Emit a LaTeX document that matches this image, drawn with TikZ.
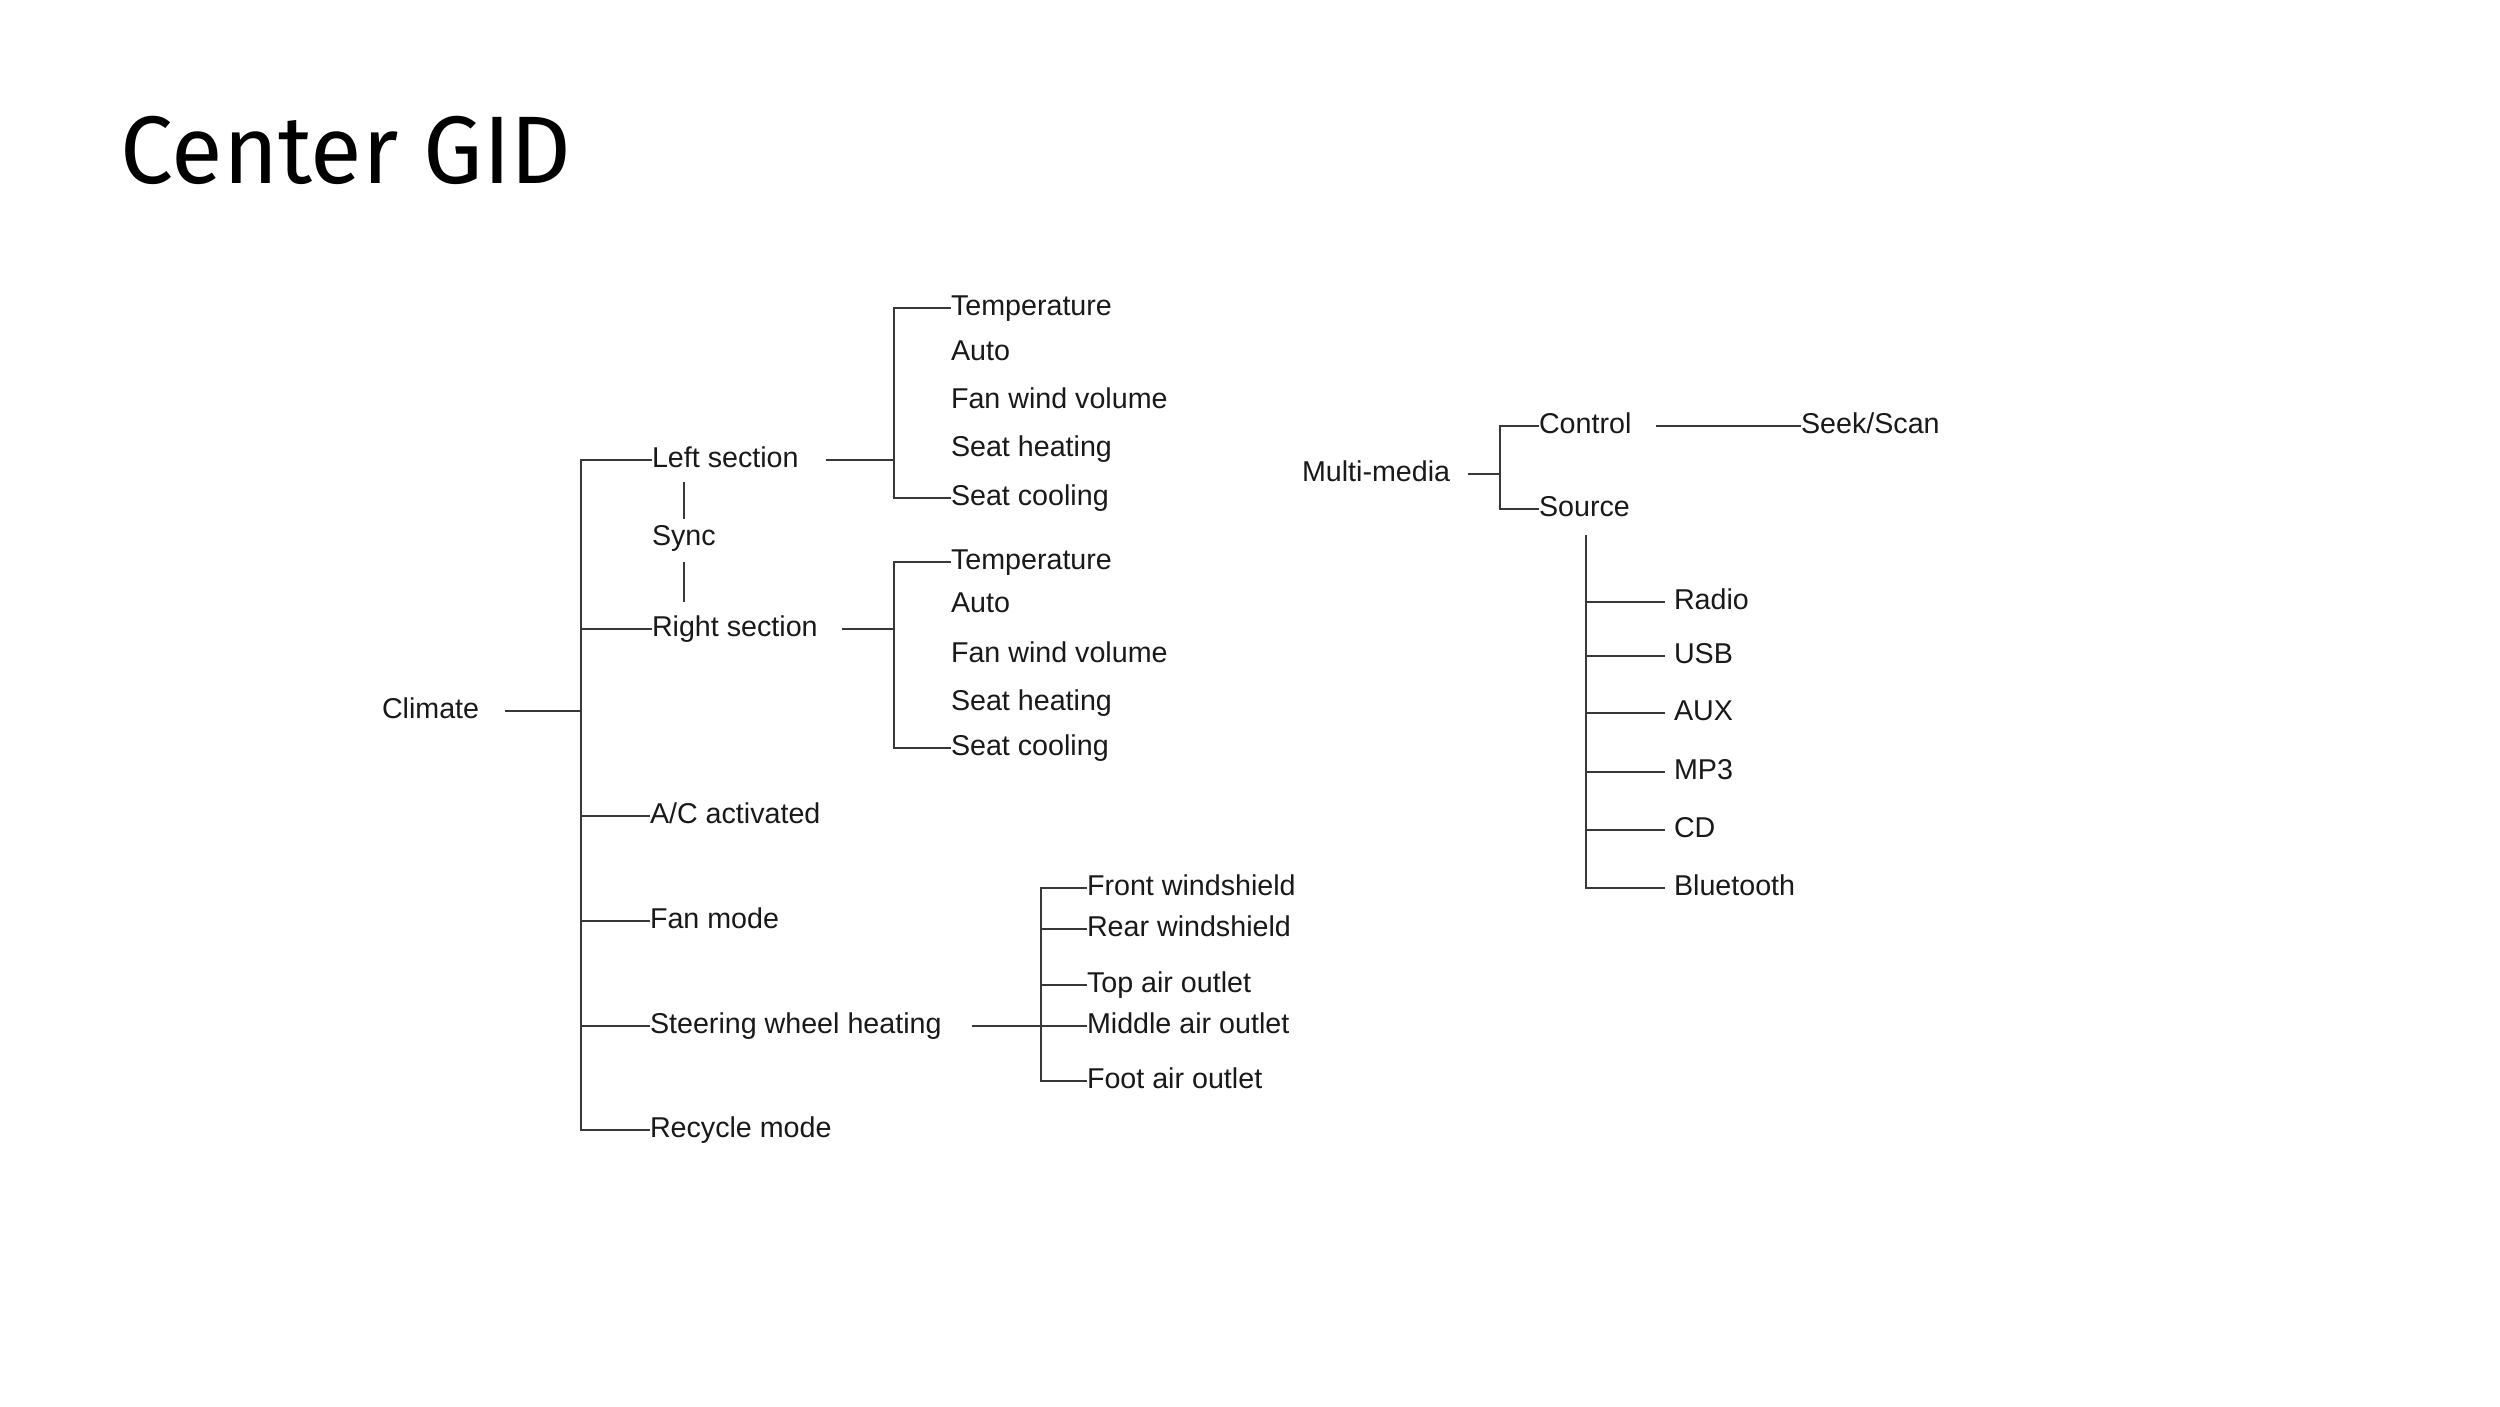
\documentclass[tikz,border=0pt]{standalone}
\usepackage{fontspec}
\usetikzlibrary{calc}
\newfontfamily\bodyfont{Liberation Sans}
\newfontfamily\titlefont{Fira Sans}
\begin{document}
\begin{tikzpicture}[x=0.01cm,y=-0.01cm,
  lbl/.style={anchor=west, inner sep=0pt, outer sep=0pt,
    font=\bodyfont\fontsize{8.15}{9.8}\selectfont, text height=5.8pt, text depth=1.8pt, text=black!90},
  conn/.style={line width=0.6pt, draw=black!78},
  ttl/.style={anchor=base west, inner sep=0pt, font=\titlefont\fontsize{27.3}{32}\selectfont, text=black}]
\fill[white] (0,0) rectangle (2500,1406);
\useasboundingbox (0,0) rectangle (2500,1406);

% Title
\node[ttl] (title) at (120,183) {\scalebox{0.982}[1]{Center GID}};

% Climate tree
\node[lbl] (climate) at (382,711) {Climate};
\node[lbl] (ls) at (652,460) {Left section};
\node[lbl] (sync) at (652,538) {Sync};
\node[lbl] (rs) at (652,629) {Right section};
\node[lbl] (ac) at (650,816) {A/C activated};
\node[lbl] (fan) at (650,921) {Fan mode};
\node[lbl] (sw) at (650,1026) {Steering wheel heating};
\node[lbl] (rec) at (650,1130) {Recycle mode};

\node[lbl] (lt1) at (951,308) {Temperature};
\node[lbl] (lt2) at (951,353) {Auto};
\node[lbl] (lt3) at (951,401) {Fan wind volume};
\node[lbl] (lt4) at (951,449) {Seat heating};
\node[lbl] (lt5) at (951,498) {Seat cooling};

\node[lbl] (rt1) at (951,562) {Temperature};
\node[lbl] (rt2) at (951,605) {Auto};
\node[lbl] (rt3) at (951,655) {Fan wind volume};
\node[lbl] (rt4) at (951,703) {Seat heating};
\node[lbl] (rt5) at (951,748) {Seat cooling};

\node[lbl] (f1) at (1087,888) {Front windshield};
\node[lbl] (f2) at (1087,929) {Rear windshield};
\node[lbl] (f3) at (1087,985) {Top air outlet};
\node[lbl] (f4) at (1087,1026) {Middle air outlet};
\node[lbl] (f5) at (1087,1081) {Foot air outlet};

\coordinate (ctop) at (581,460);
\coordinate (cj) at (581,711);
\coordinate (lbus) at (894,460);
\coordinate (rbus) at (894,629);
\coordinate (sbus) at (1041,1026);

\draw[conn] ($(climate.east)+(26,0)$) -- (cj);
\draw[conn] (ls.west) -- (ctop) -- (ctop |- rec.west) -- (rec.west);
\draw[conn] (ctop |- rs.west) -- (rs.west);
\draw[conn] (ctop |- ac.west) -- (ac.west);
\draw[conn] (ctop |- fan.west) -- (fan.west);
\draw[conn] (ctop |- sw.west) -- (sw.west);

\draw[conn] ($(ls.south -| sync.center)+(0,8.7)$) -- ($(sync.north)+(0,-5.6)$);
\draw[conn] ($(sync.south)+(0,10.7)$) -- ($(rs.north -| sync.center)+(0,-13.6)$);

\draw[conn] ($(ls.east)+(27,0)$) -- (lbus);
\draw[conn] (lt1.west) -| (lbus) |- (lt5.west);
\draw[conn] ($(rs.east)+(24,0)$) -- (rbus);
\draw[conn] (rt1.west) -| (rbus) |- (rt5.west);

\draw[conn] ($(sw.east)+(30,0)$) -- (f4.west);
\draw[conn] (f1.west) -| (sbus) |- (f5.west);
\draw[conn] (sbus |- f2.west) -- (f2.west);
\draw[conn] (sbus |- f3.west) -- (f3.west);

% Multi-media tree
\node[lbl] (mm) at (1302,474) {Multi-media};
\node[lbl] (ctl) at (1539,426) {Control};
\node[lbl] (src) at (1539,509) {Source};
\node[lbl] (seek) at (1801,426) {Seek/Scan};
\node[lbl] (radio) at (1674,602) {Radio};
\node[lbl] (usb) at (1674,656) {USB};
\node[lbl] (aux) at (1674,713) {AUX};
\node[lbl] (mp3) at (1674,772) {MP3};
\node[lbl] (cd) at (1674,830) {CD};
\node[lbl] (bt) at (1674,888) {Bluetooth};

\coordinate (mbus) at (1500,474);
\coordinate (srcbus) at ($(src.south)+(1.5,12.7)$);

\draw[conn] ($(mm.east)+(18,0)$) -- (mbus);
\draw[conn] (ctl.west) -| (mbus) |- (src.west);
\draw[conn] ($(ctl.east)+(25,0)$) -- (seek.west);
\draw[conn] (srcbus) |- ($(bt.west)+(-9,0)$);
\draw[conn] (srcbus |- radio.west) -- ($(radio.west)+(-9,0)$);
\draw[conn] (srcbus |- usb.west) -- ($(usb.west)+(-9,0)$);
\draw[conn] (srcbus |- aux.west) -- ($(aux.west)+(-9,0)$);
\draw[conn] (srcbus |- mp3.west) -- ($(mp3.west)+(-9,0)$);
\draw[conn] (srcbus |- cd.west) -- ($(cd.west)+(-9,0)$);
\end{tikzpicture}
\end{document}
